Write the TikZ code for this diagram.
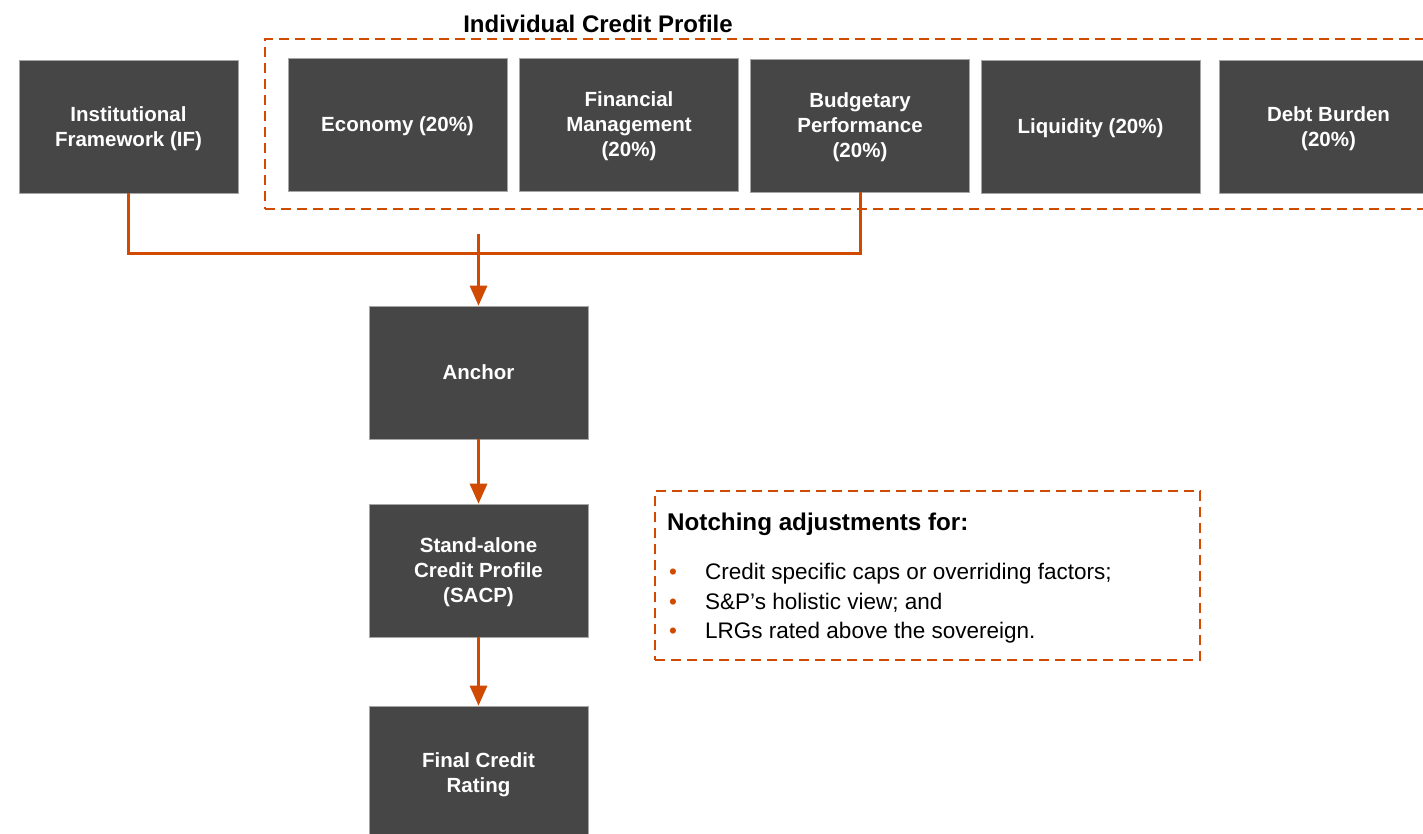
\documentclass[tikz,border=0pt]{standalone}
\usepackage{fontspec}
\setmainfont{Liberation Sans}
\usetikzlibrary{arrows.meta}
\definecolor{pwcorange}{RGB}{208,74,2}
\definecolor{boxgray}{RGB}{70,70,70}
\tikzset{
  darkbox/.style={fill=boxgray, draw=gray!70, line width=0.6pt, minimum width=219pt, minimum height=133pt,
    inner sep=0pt, text=white, align=center, text depth=-7pt, font=\bfseries\fontsize{20.5}{25}\selectfont},
  dashbox/.style={draw=pwcorange, line width=2.4pt, dash pattern=on 10pt off 6pt, inner sep=0pt},
  conn/.style={draw=pwcorange, line width=3pt},
  arr/.style={conn, -{Triangle[length=20pt,width=17pt]}},
}
\begin{document}
\begin{tikzpicture}[x=1pt,y=-1pt]
\useasboundingbox (0,0) rectangle (1423,834);
\clip (0,0) rectangle (1423,834);
\fill[white] (0,0) rectangle (1423,834);

% Individual Credit Profile group
\node[dashbox, minimum width=1175pt, minimum height=170pt] (icp) at (852.5,124) {};
\node[font=\bfseries\fontsize{24}{28}\selectfont, inner sep=0pt] (icptitle) at (598,24) {Individual Credit Profile};

\node[darkbox] (if) at (128.5,126.5) {Institutional\\Framework (IF)};
\node[darkbox] (econ) at (397.5,124.5) {Economy (20\%)};
\node[darkbox] (fin) at (629,124.5) {Financial\\Management\\(20\%)};
\node[darkbox] (budget) at (860,125.5) {Budgetary\\Performance\\(20\%)};
\node[darkbox] (liq) at (1090.5,126.5) {Liquidity (20\%)};
\node[darkbox] (debt) at (1328.5,126.5) {Debt Burden\\(20\%)};

\node[darkbox] (anchor) at (478.5,372.5) {Anchor};
\node[darkbox] (sacp) at (478.5,570.5) {Stand-alone\\Credit Profile\\(SACP)};
\node[darkbox] (final) at (478.5,772.5) {Final Credit\\Rating};

% connectors
\coordinate (hl) at (0,254);
\draw[conn] (if.south) |- (budget.south |- hl) -- (budget.south);
\coordinate (stub) at (478.5,234);
\draw[arr] (stub) -- (anchor.north);
\draw[arr] (anchor.south) -- (sacp.north);
\draw[arr] (sacp.south) -- (final.north);

% Notching box
\node[dashbox, minimum width=545pt, minimum height=169pt] (notch) at (927.5,575.5) {};
\node[anchor=west, inner sep=0pt, font=\bfseries\fontsize{24.2}{28}\selectfont] (notchhead) at (667,524) {Notching adjustments for:};
\node[anchor=north west, inner sep=0pt, font=\fontsize{22.5}{29.5}\selectfont, align=left] (notchlist) at (669,559)
  {\begin{tabular}{@{}p{36pt}@{}l@{}}
   \textcolor{pwcorange}{•} & Credit specific caps or overriding factors;\\
   \textcolor{pwcorange}{•} & S\&P’s holistic view; and\\
   \textcolor{pwcorange}{•} & LRGs rated above the sovereign.
   \end{tabular}};
\end{tikzpicture}
\end{document}
